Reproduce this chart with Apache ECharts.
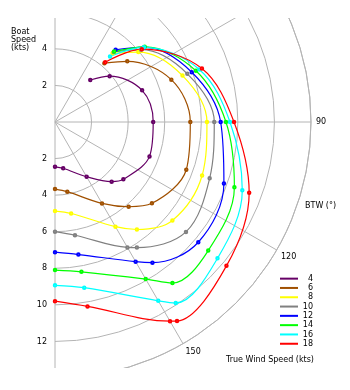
<!DOCTYPE html>
<html><head><meta charset="utf-8">
<script src="https://cdn.jsdelivr.net/npm/echarts@6/dist/echarts.min.js"></script>
<style>
html,body{margin:0;padding:0;background:#fff;width:350px;height:390px;overflow:hidden}
#c{position:absolute;left:0;top:18px;width:350px;height:350px}
</style>
</head><body><div id="c"></div>
<script>
const windSpeeds = ['4','6','8','10','12','14','16','18'];
const lineColors = ['#660066','#a05000','#ffff00','#808080','#0000ff','#00ff00','#00ffff','#ff0000'];
const trueWindAngles = [40, 50, 70, 90, 110, 130, 150, 170, 180];
const boatSpeed4  = [3.0, 3.9, 5.07, 5.37, 5.5, 4.88, 3.46, 2.57, 2.45];
const boatSpeed6  = [4.2, 5.16, 6.77, 7.40, 7.64, 6.92, 5.14, 3.87, 3.67];
const boatSpeed8  = [4.9, 5.95, 7.42, 8.31, 8.56, 8.38, 6.61, 5.08, 4.87];
const boatSpeed10 = [5.0, 6.15, 7.7, 8.71, 9.0, 9.35, 7.92, 6.29, 6.0];
const boatSpeed12 = [5.16, 6.37, 7.96, 9.06, 9.83, 10.23, 8.82, 7.36, 7.12];
const boatSpeed14 = [5.03, 6.4, 8.2, 9.35, 10.44, 10.94, 9.92, 8.32, 8.1];
const boatSpeed16 = [4.68, 6.35, 8.4, 9.57, 10.9, 11.6, 11.29, 9.2, 8.93];
const boatSpeed18 = [4.27, 6.2, 8.55, 9.79, 11.3, 12.24, 12.58, 10.24, 9.8];
const runAngles = [136.5, 139, 142.7, 146.9, 145.3, 143.9, 146.3, 148.5];
const runSpeeds = [4.5, 6.14, 7.39, 8.2, 9.36, 10.9, 11.9, 12.77];
const speedTicks = [2, 4, 6, 8, 10, 12];
const angleTicks = [90, 120, 150];

const allSpeeds = [boatSpeed4, boatSpeed6, boatSpeed8, boatSpeed10, boatSpeed12, boatSpeed14, boatSpeed16, boatSpeed18];
const FONT = 'DejaVu Sans';
const GRID = '#b4b4b4';

const series = windSpeeds.map((name, i) => {
  const pts = trueWindAngles.map((a, j) => [allSpeeds[i][j], a]);
  pts.push([runSpeeds[i], runAngles[i]]);
  pts.sort((p, q) => p[1] - q[1]);
  return {
    name: name, type: 'line', coordinateSystem: 'polar', polarIndex: 0,
    data: pts, smooth: 0.35, symbol: 'emptyCircle', symbolSize: 2.5,
    lineStyle: {width: 1.2, color: lineColors[i]},
    itemStyle: {color: lineColors[i], borderWidth: 0.8},
    z: 3
  };
});

const labelStyle = {color: '#000', fontSize: 8, fontFamily: FONT};

const chart = echarts.init(document.getElementById('c'), null, {renderer: 'canvas'});
chart.setOption({
  animation: false,
  color: lineColors,
  textStyle: {fontFamily: FONT},
  title: [
    {text: 'Boat\nSpeed\n(kts)', left: 11, top: 10, padding: 0,
     textStyle: {fontSize: 8, lineHeight: 8, fontWeight: 'normal', color: '#000', fontFamily: FONT}},
    {text: 'True Wind Speed (kts)', left: 226, top: 338, padding: 0,
     textStyle: {fontSize: 8, fontWeight: 'normal', color: '#000', fontFamily: FONT}},
    {text: 'BTW (°)', left: 305, top: 184, padding: 0,
     textStyle: {fontSize: 8, fontWeight: 'normal', color: '#000', fontFamily: FONT}}
  ],
  legend: {
    orient: 'vertical', left: 280, top: 256, padding: 0,
    itemWidth: 18, itemHeight: 2, itemGap: 0, icon: 'rect',
    data: windSpeeds,
    formatter: n => '{a|' + n + '}',
    textStyle: {fontSize: 8, lineHeight: 9.3, color: '#000', fontFamily: FONT,
      rich: {a: {width: 10, align: 'right', fontSize: 8, fontFamily: FONT, color: '#000'}}}
  },
  polar: [
    {center: [55, 104], radius: 256},
    {center: [55, 104], radius: 256}
  ],
  angleAxis: [
    {polarIndex: 0, type: 'value', min: 0, max: 180, interval: 30,
     startAngle: 90, endAngle: -90, clockwise: true,
     axisLine: {show: true, lineStyle: {color: GRID, width: 1}},
     axisTick: {show: false},
     splitLine: {show: true, lineStyle: {color: GRID, width: 1}},
     axisLabel: Object.assign({margin: 5, formatter: v => angleTicks.includes(v) ? String(v) : ''}, labelStyle)},
    {polarIndex: 1, type: 'value', min: 0, max: 180, interval: 30,
     startAngle: 270, endAngle: 90, clockwise: true, show: false}
  ],
  radiusAxis: [
    {polarIndex: 0, type: 'value', min: 0, max: 14, interval: 2,
     axisLine: {show: false}, axisTick: {show: false},
     splitLine: {show: true, lineStyle: {color: GRID, width: 1}},
     axisLabel: Object.assign({margin: 8, formatter: v => speedTicks.includes(v) ? String(v) : ''}, labelStyle)},
    {polarIndex: 1, type: 'value', min: 0, max: 14, interval: 2,
     axisLine: {show: false}, axisTick: {show: false}, splitLine: {show: false},
     axisLabel: Object.assign({margin: -8, align: 'right', formatter: v => speedTicks.includes(v) ? String(v) : ''}, labelStyle)}
  ],
  series: series
});
</script>
</body></html>
